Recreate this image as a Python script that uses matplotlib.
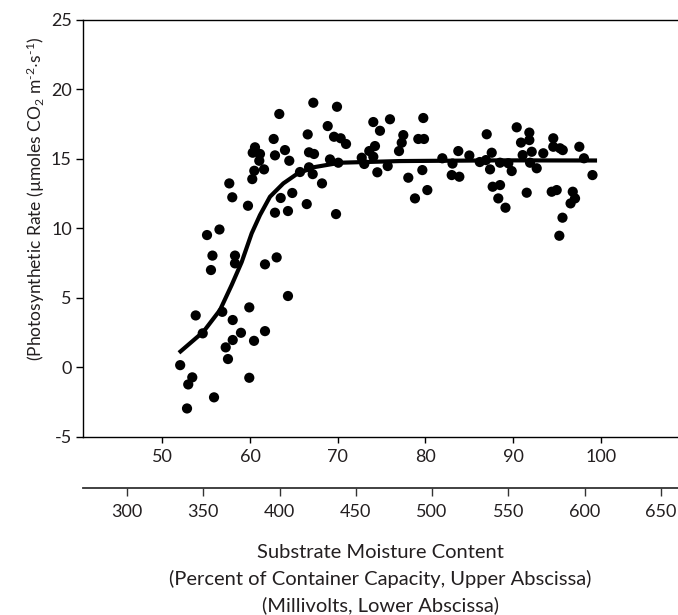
import matplotlib
matplotlib.use('Agg')
import matplotlib.pyplot as plt

# ---- data ----
moisture_pct = [52.04, 53.42, 52.96, 52.82, 55.90, 59.92, 57.49, 57.23, 58.03, 58.97,
                60.46, 61.71, 58.03, 59.92, 56.84, 54.61, 53.81, 64.33, 55.55, 58.29,
                61.71, 63.04, 55.72, 58.29, 55.10, 56.52, 57.64, 57.98, 59.77, 63.50,
                64.82, 62.85, 64.33, 66.47, 69.81, 67.22, 69.92, 63.34, 68.86, 66.58,
                69.58, 70.34, 70.95, 62.70, 60.57, 63.99, 60.31, 61.14, 62.85, 66.73,
                67.30, 64.48, 61.06, 69.12, 61.60, 60.49, 60.26, 66.73, 65.70, 67.15,
                68.21, 70.07,
                74.06, 75.96, 74.82, 77.48, 77.30, 76.99, 74.25, 73.60, 72.74, 73.03,
                74.06, 75.70, 74.52, 79.19, 79.84, 79.76, 79.65, 78.05, 80.22, 78.81,
                81.93, 83.75, 83.09, 83.00, 83.87, 85.01,
                86.99, 87.56, 87.37, 88.51, 87.67, 88.51, 88.31, 89.13, 89.84, 89.45,
                90.41, 91.85, 90.90, 91.85, 92.12, 91.09, 91.93, 92.69, 91.55, 93.44,
                94.58, 95.35, 94.58, 95.66, 94.40, 94.97, 96.80, 97.06, 96.55, 95.63,
                95.27, 97.55, 98.08, 99.05, 86.90, 86.20]
photo_rate = [0.14, -0.74, -1.25, -2.98, -2.18, -0.77, 0.58, 1.42, 1.95, 2.47,
              1.89, 2.59, 3.39, 4.30, 3.98, 2.43, 3.72, 5.12, 6.99, 7.47,
              7.40, 7.90, 8.03, 8.03, 9.51, 9.91, 13.23, 12.23, 11.62, 12.18,
              12.54, 11.12, 11.24, 11.74, 11.02, 19.04, 18.75, 18.23, 17.36, 16.76,
              16.59, 16.48, 16.07, 16.43, 15.83, 15.63, 15.44, 15.35, 15.25, 15.47,
              15.35, 14.86, 14.86, 14.96, 14.24, 14.14, 13.54, 14.39, 14.05, 13.90,
              13.23, 14.72,
              17.65, 17.85, 17.02, 16.71, 16.16, 15.56, 15.92, 15.56, 15.08, 14.63,
              15.15, 14.48, 14.03, 16.43, 16.43, 17.94, 14.19, 13.64, 12.75, 12.15,
              15.04, 15.56, 14.66, 13.83, 13.71, 15.24,
              16.77, 15.44, 14.24, 14.72, 12.99, 13.11, 12.15, 11.48, 14.12, 14.68,
              17.27, 16.89, 16.17, 16.35, 15.51, 15.27, 14.72, 14.32, 12.56, 15.40,
              16.48, 15.76, 15.87, 15.63, 12.63, 12.75, 12.63, 12.15, 11.79, 10.76,
              9.46, 15.87, 15.04, 13.83, 14.91, 14.77]

fit_x = [51.90, 54.68, 56.58, 57.91, 59.05, 60.19, 61.14, 62.28, 63.80, 65.33,
         67.22, 70.26, 77.10, 88.50, 99.57]
fit_y = [1.03, 2.54, 4.11, 5.91, 7.56, 9.63, 10.95, 12.27, 13.23, 13.90,
         14.39, 14.72, 14.84, 14.89, 14.88]

upper_ticks = [50, 60, 70, 80, 90, 100]
lower_ticks = [300, 350, 400, 450, 500, 550, 600, 650]
y_ticks = [-5, 0, 5, 10, 15, 20, 25]

ylabel = r'(Photosynthetic Rate (µmoles CO$_2$ m$^{\text{-}2}$$\cdot$s$^{\text{-}1}$)'
xlabel_lines = ['Substrate Moisture Content',
                '(Percent of Container Capacity, Upper Abscissa)',
                '(Millivolts, Lower Abscissa)']

# ---- style ----
plt.rcParams['font.family'] = ['Lato', 'DejaVu Sans']
plt.rcParams['mathtext.fontset'] = 'custom'
plt.rcParams['mathtext.rm'] = 'Lato'
plt.rcParams['mathtext.it'] = 'Lato:italic'
plt.rcParams['mathtext.bf'] = 'Lato:bold'
plt.rcParams['mathtext.default'] = 'regular'
plt.rcParams['axes.unicode_minus'] = False

txt = '#231f20'
W, H = 678, 615
fig = plt.figure(figsize=(W / 100, H / 100), dpi=100)
left, right, top, bottom = 83, 678, 20, 436.5
ax = fig.add_axes([left / W, 1 - bottom / H, (right - left) / W, (bottom - top) / H])

ax.scatter(moisture_pct, photo_rate, s=54, c='black', edgecolors='none', zorder=3)
ax.plot(fit_x, fit_y, color='black', lw=3, solid_capstyle='butt', zorder=2)

ax.set_xlim(40.96, 108.8)
ax.set_ylim(-5, 25)
ax.set_xticks(upper_ticks)
ax.set_yticks(y_ticks)
ax.spines['right'].set_visible(False)
for s in ['top', 'left', 'bottom']:
    ax.spines[s].set_linewidth(1.0)
    ax.spines[s].set_color('black')
ax.tick_params(axis='x', direction='out', length=4, width=1, pad=5,
               labelsize=13, labelcolor=txt)
ax.tick_params(axis='y', direction='out', length=5, width=1, pad=3,
               labelsize=13, labelcolor=txt)

ax2 = ax.twiny()
ax2.set_xlim(271.15, 661.3)
ax2.set_xticks(lower_ticks)
ax2.xaxis.set_ticks_position('bottom')
ax2.xaxis.set_label_position('bottom')
ax2.spines['bottom'].set_position(('outward', 37.3))
for s in ['top', 'left', 'right']:
    ax2.spines[s].set_visible(False)
ax2.spines['bottom'].set_linewidth(1.3)
ax2.spines['bottom'].set_color('#333333')
ax2.tick_params(axis='x', direction='out', length=6, width=1, pad=5,
                labelsize=13, labelcolor=txt, color='#333333')

fig.text(36 / W, 1 - 199 / H, ylabel, rotation=90, ha='center', va='center',
         fontsize=12.5, color=txt)
for yy, line in zip([552, 579, 605], xlabel_lines):
    fig.text(380 / W, 1 - yy / H, line, ha='center', va='center',
             fontsize=14.5, color=txt)

fig.savefig('out.png', dpi=100)
